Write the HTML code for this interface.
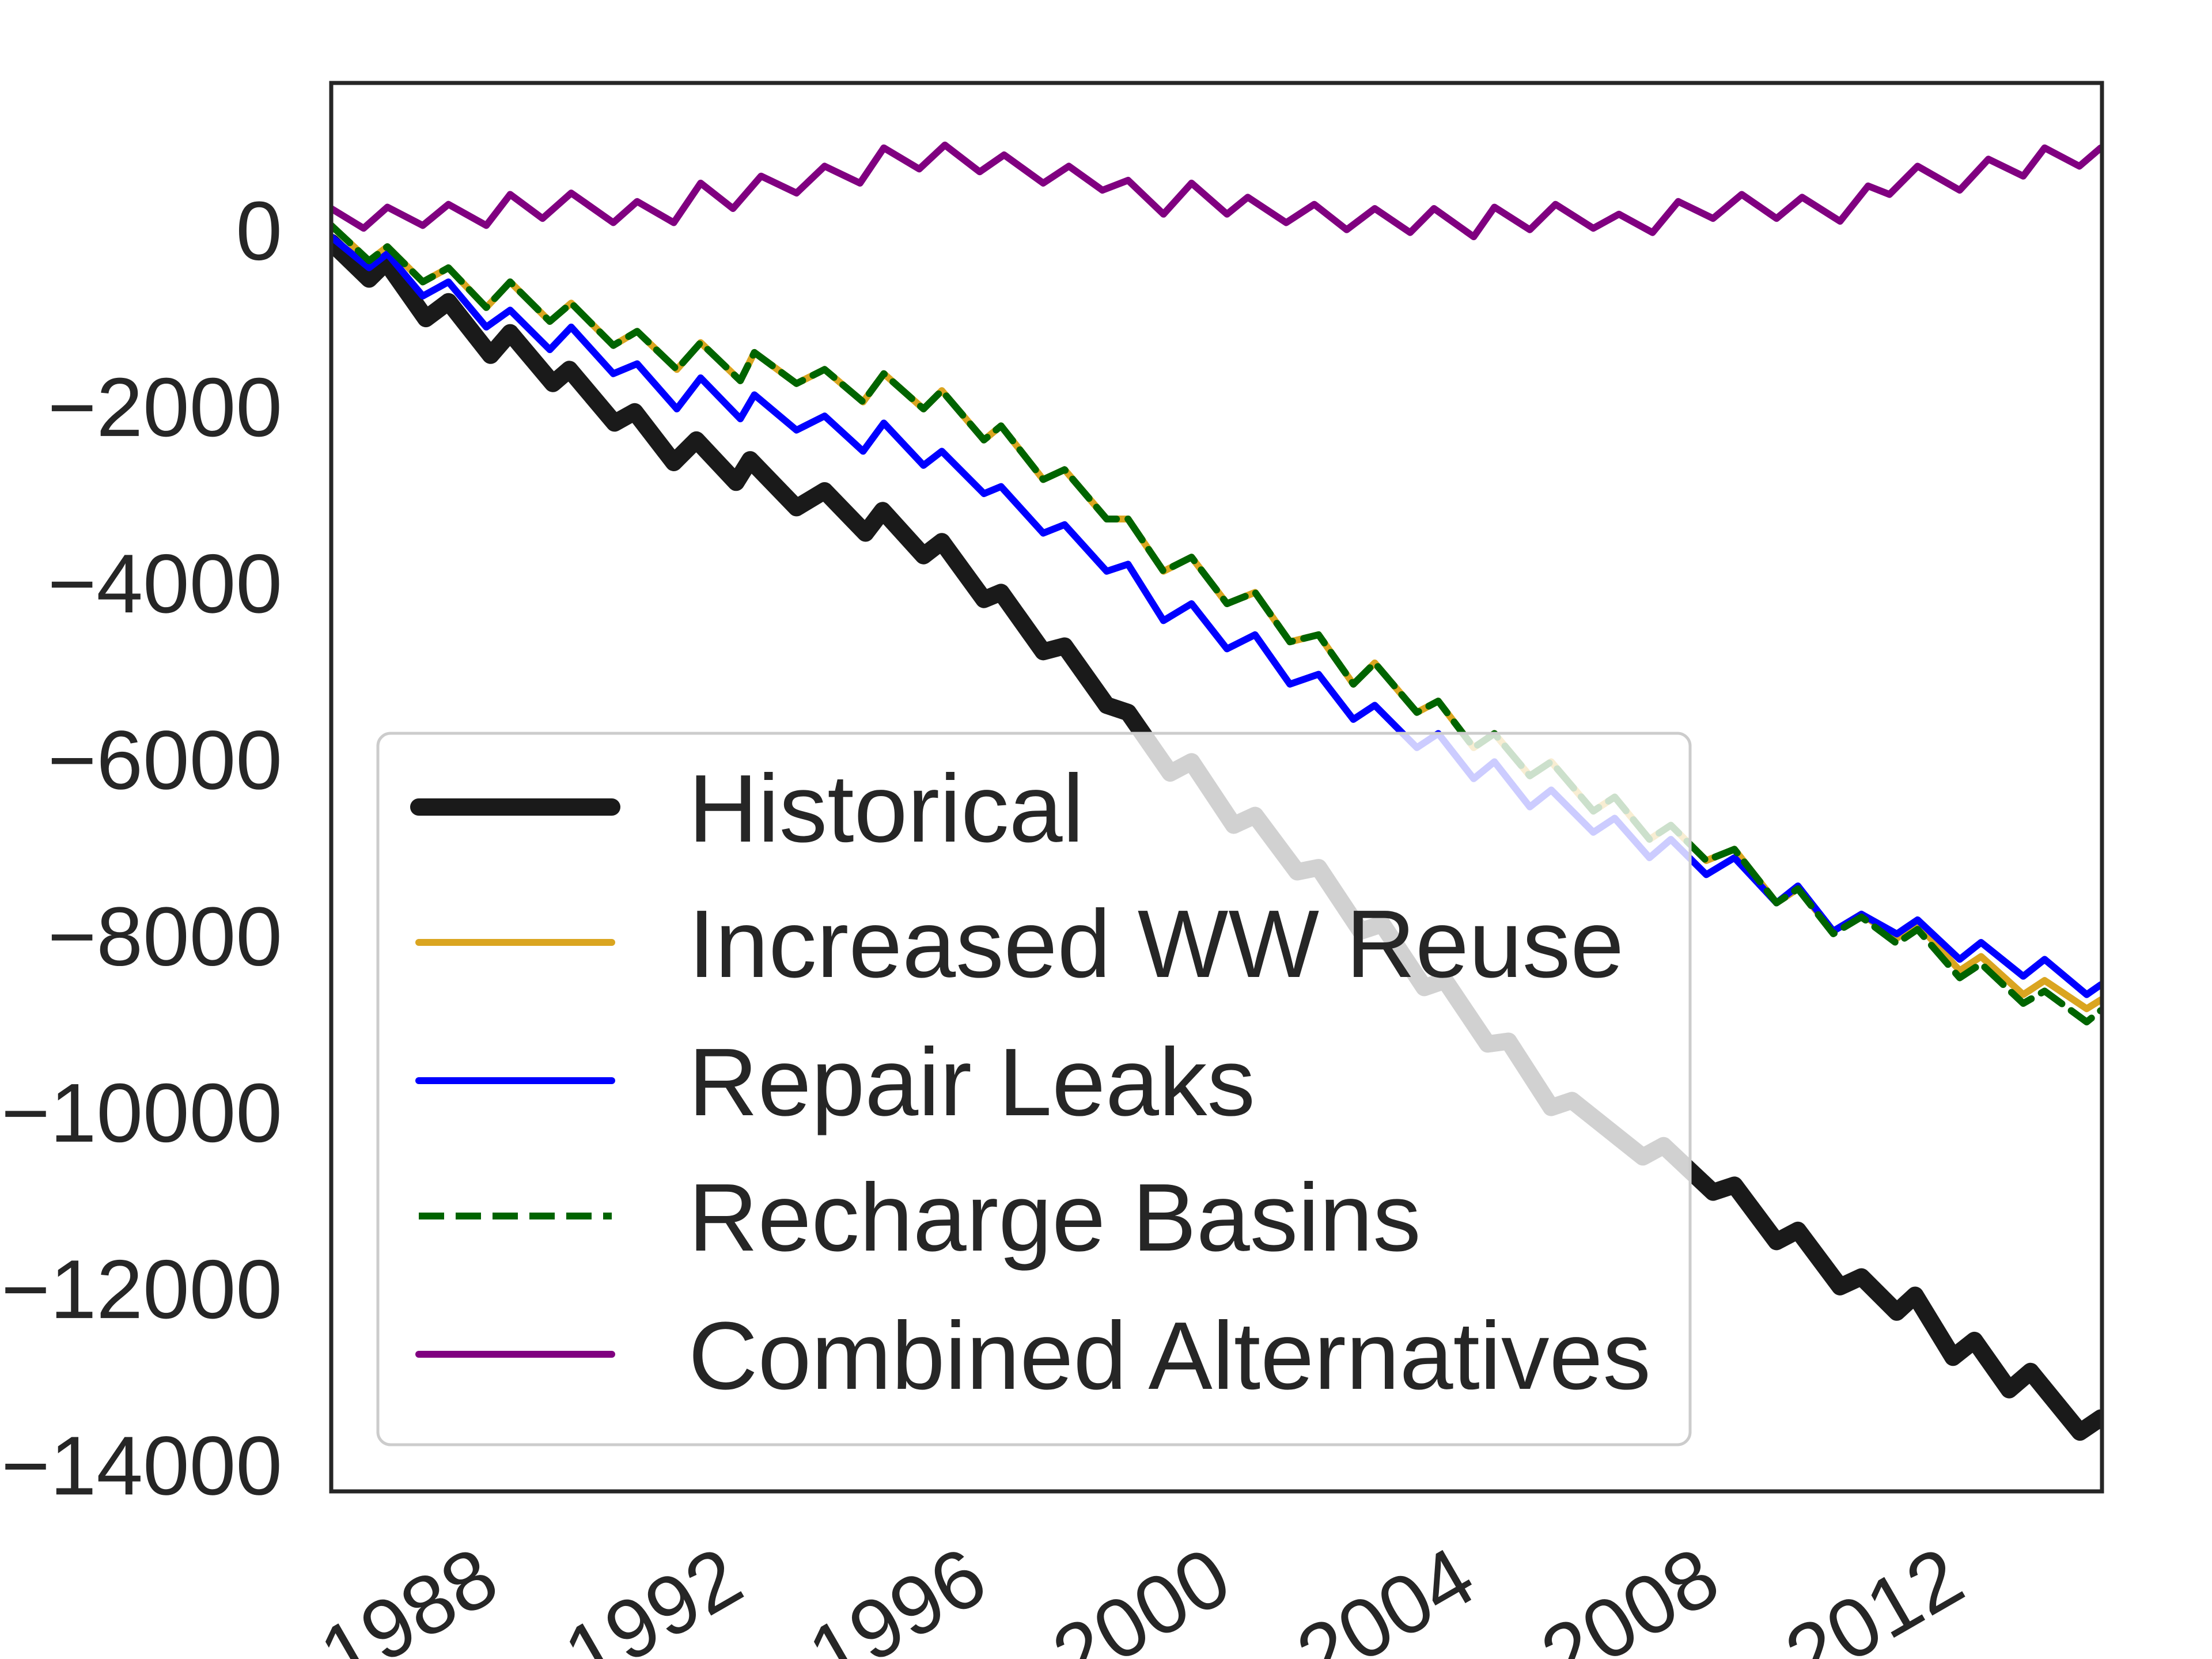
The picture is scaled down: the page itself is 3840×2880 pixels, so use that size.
<!DOCTYPE html>
<html><head><meta charset="utf-8"><style>
html,body{margin:0;padding:0;background:#fff;}
svg{display:block;font-family:"Liberation Sans",sans-serif;}
</style></head><body>
<svg id="chart" width="3840" height="2880" viewBox="0 0 3840 2880" xmlns="http://www.w3.org/2000/svg">
<defs><clipPath id="plotclip"><rect x="575" y="144" width="3074" height="2445"/></clipPath></defs>
<rect x="0" y="0" width="3840" height="2880" fill="#fff"/>
<g id="series" clip-path="url(#plotclip)"></g>
<rect x="575" y="144" width="3074" height="2445" fill="none" stroke="#262626" stroke-width="7"/>
<g id="yticks"></g>
<g id="xticks"></g>
<g id="legend"></g>
</svg>
<script>
const yTickValues = [0, -2000, -4000, -6000, -8000, -10000, -12000, -14000];
const xTickYears = [1988, 1992, 1996, 2000, 2004, 2008, 2012];
const legendLabels = ["Historical", "Increased WW Reuse", "Repair Leaks", "Recharge Basins", "Combined Alternatives"];

const histT = [0,.62,.90,1.55,1.92,2.61,2.93,3.63,3.90,4.64,4.97,5.61,5.98,6.63,6.86,7.62,8.08,8.75,9.03,9.70,10.0,10.69,10.97,11.66,12.01,12.70,13.05,13.74,14.09,14.78,15.13,15.82,16.17,16.86,17.21,17.90,18.24,18.94,19.28,19.98,20.32,21.48,21.82,22.63,22.98,23.67,24.02,24.71,25.06,25.64,25.94,26.56,26.91,27.48,27.83,28.64,28.98];
const historical = [-112,-528,-336,-976,-784,-1392,-1136,-1712,-1552,-2160,-2032,-2608,-2352,-2832,-2576,-3120,-2928,-3408,-3152,-3664,-3504,-4160,-4080,-4752,-4688,-5360,-5440,-6128,-6000,-6720,-6608,-7248,-7200,-7920,-7840,-8560,-8480,-9200,-9168,-9920,-9840,-10480,-10352,-10880,-10800,-11440,-11312,-11952,-11840,-12240,-12048,-12752,-12560,-13120,-12912,-13600,-13440];

const altT = [0,.62,.92,1.5,1.92,2.54,2.93,3.58,3.93,4.62,5.01,5.66,6.05,6.70,6.93,7.62,8.08,8.71,9.05,9.70,10.0,10.69,10.97,11.66,12.01,12.7,13.05,13.63,14.09,14.67,15.13,15.7,16.17,16.74,17.09,17.78,18.13,18.71,19.05,19.63,19.98,20.67,21.02,21.59,21.94,22.52,22.98,23.67,24.02,24.6,25.06,25.64,25.98,26.67,27.02,27.71,28.06,28.75,28.98];
const wwReuse = [80,-320,-160,-560,-400,-850,-560,-1008,-800,-1280,-1120,-1552,-1248,-1680,-1360,-1712,-1552,-1920,-1600,-2000,-1792,-2352,-2192,-2800,-2688,-3248,-3248,-3840,-3680,-4208,-4080,-4640,-4560,-5120,-4880,-5440,-5312,-5840,-5680,-6160,-6000,-6560,-6400,-6880,-6720,-7120,-6992,-7600,-7440,-7920,-7728,-8000,-7840,-8368,-8208,-8640,-8480,-8800,-8700];
const rechargeBasins = [80,-320,-160,-560,-400,-850,-560,-1008,-800,-1280,-1120,-1552,-1248,-1680,-1360,-1712,-1552,-1920,-1600,-2000,-1792,-2352,-2192,-2800,-2688,-3248,-3248,-3840,-3680,-4208,-4080,-4640,-4560,-5120,-4880,-5440,-5312,-5840,-5680,-6160,-6000,-6560,-6400,-6880,-6720,-7120,-6992,-7600,-7440,-7950,-7760,-8060,-7900,-8450,-8290,-8740,-8600,-8950,-8820];
const repairLeaks = [-50,-400,-240,-720,-560,-1072,-880,-1328,-1072,-1600,-1488,-2000,-1648,-2112,-1840,-2240,-2080,-2480,-2160,-2640,-2480,-2960,-2880,-3408,-3312,-3840,-3760,-4400,-4208,-4720,-4560,-5120,-5008,-5520,-5360,-5840,-5680,-6192,-6000,-6512,-6320,-6800,-6640,-7088,-6880,-7280,-7088,-7600,-7408,-7920,-7728,-7952,-7792,-8240,-8048,-8432,-8240,-8640,-8528];
const purpT = [0,.53,.92,1.5,1.92,2.54,2.93,3.46,3.93,4.62,5.01,5.61,6.05,6.58,7.04,7.62,8.08,8.66,9.05,9.63,10.05,10.62,11.02,11.66,12.08,12.63,13.05,13.63,14.09,14.67,15.01,15.64,16.1,16.63,17.09,17.67,18.06,18.71,19.05,19.63,20.05,20.67,21.09,21.64,22.06,22.63,23.1,23.67,24.09,24.71,25.17,25.52,25.98,26.67,27.14,27.71,28.06,28.63,28.98];
const combined = [272,48,288,80,320,80,432,160,448,112,352,112,560,272,640,448,752,560,960,720,992,688,880,560,752,480,592,208,560,208,400,112,320,32,272,0,272,-48,288,32,320,48,208,0,352,160,432,160,400,128,528,432,752,480,832,640,960,752,960];

const NS = "http://www.w3.org/2000/svg";
const X0 = 575, X1 = 3649, Y0 = 144, Y1 = 2589;
const YMIN = -14272, YMAX = 1696, TMIN = 1986, TMAX = 2015;
function xScale(year){ return X0 + (year - TMIN) / (TMAX - TMIN) * (X1 - X0); }
function yScale(v){ return Y1 - (v - YMIN) / (YMAX - YMIN) * (Y1 - Y0); }
function mk(tag, attrs){ const e = document.createElementNS(NS, tag); for (const k in attrs) e.setAttribute(k, attrs[k]); return e; }

const seriesLayer = document.getElementById('series');
function drawLine(t, vals, color, width, dash, name){
  let d = '';
  for (let i = 0; i < vals.length; i++){
    d += (i ? 'L' : 'M') + xScale(TMIN + t[i]).toFixed(1) + ',' + yScale(vals[i]).toFixed(1);
  }
  const p = mk('path', {d: d, fill: 'none', stroke: color, 'stroke-width': width, 'stroke-linejoin': 'round', 'stroke-linecap': 'round'});
  if (dash) p.setAttribute('stroke-dasharray', dash);
  
  
  seriesLayer.appendChild(p);
}
drawLine(histT, historical, '#1a1a1a', 30, null, 'historical-line');
drawLine(altT, wwReuse, '#DAA520', 12, null, 'increased-ww-reuse-line');
drawLine(altT, repairLeaks, '#0000FF', 12, null, 'repair-leaks-line');
drawLine(altT, rechargeBasins, '#006400', 12, '44,20', 'recharge-basins-line');
drawLine(purpT, combined, '#800080', 12, null, 'combined-alternatives-line');

const yt = document.getElementById('yticks');
yTickValues.forEach(v => {
  const t = mk('text', {x: 490, y: yScale(v) + 47, 'text-anchor': 'end', 'font-size': 145, fill: '#262626'});
  t.textContent = v < 0 ? '\u2212' + Math.abs(v) : String(v);
  
  
  yt.appendChild(t);
});
const xt = document.getElementById('xticks');
xTickYears.forEach(yr => {
  const ax = xScale(yr) + 87, ay = 2768;
  const t = mk('text', {x: ax, y: ay, 'text-anchor': 'end', 'font-size': 145, fill: '#262626', transform: 'rotate(-30 ' + ax + ' ' + ay + ')'});
  t.textContent = String(yr);
  
  
  xt.appendChild(t);
});

const lg = document.getElementById('legend');
const box = mk('rect', {x: 656, y: 1273, width: 2278, height: 1235, rx: 22, fill: 'rgba(255,255,255,0.8)', stroke: '#cccccc', 'stroke-width': 5});


lg.appendChild(box);
const legColors = ['#1a1a1a', '#DAA520', '#0000FF', '#006400', '#800080'];
const legWidths = [30, 12, 12, 12, 12];
const legRows = [1401, 1636, 1876, 2111, 2351];
legendLabels.forEach((lab, i) => {
  const g = mk('g', {});
  
  
  const ln = mk('line', {x1: 727, x2: 1062, y1: legRows[i], y2: legRows[i], stroke: legColors[i], 'stroke-width': legWidths[i], 'stroke-linecap': i === 3 ? 'butt' : 'round'});
  if (i === 3) ln.setAttribute('stroke-dasharray', '44,20');
  
  
  g.appendChild(ln);
  const t = mk('text', {x: 1195, y: legRows[i] + 60, 'font-size': 167, fill: '#262626'});
  t.textContent = lab;
  
  
  g.appendChild(t);
  lg.appendChild(g);
});
</script>
</body></html>
